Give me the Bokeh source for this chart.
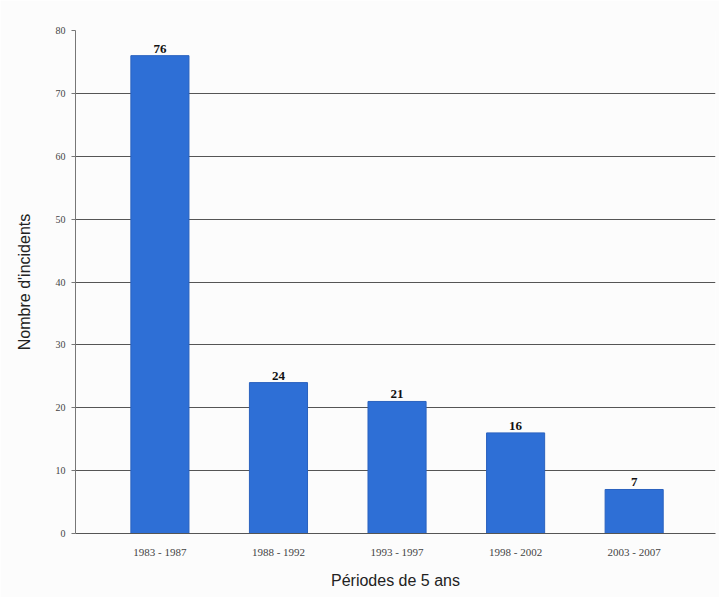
from bokeh.plotting import figure
from bokeh.models import Range1d, FixedTicker, ColumnDataSource
from bokeh.embed import file_html
from bokeh.resources import INLINE

categories = ["1983 - 1987", "1988 - 1992", "1993 - 1997", "1998 - 2002", "2003 - 2007"]
values = [76, 24, 21, 16, 7]
y_ticks = [0, 10, 20, 30, 40, 50, 60, 70, 80]

xs = list(range(len(categories)))
src = ColumnDataSource(dict(x=xs, top=values, lbl=[str(v) for v in values]))

p = figure(width=719, height=597, output_backend="svg", toolbar_location=None,
           x_range=Range1d(-0.712, 4.686), y_range=Range1d(0, 80),
           min_border_left=75, min_border_right=4, min_border_top=30, min_border_bottom=64)
p.outline_line_color = None
p.background_fill_color = "#fcfcfc"
p.border_fill_color = "#fcfcfc"

p.vbar(x="x", top="top", width=0.49, bottom=0, source=src, fill_color="#2e6fd6", line_color="#2a62bf")
p.text(x="x", y="top", text="lbl", source=src, text_align="center", text_baseline="bottom",
       text_font_size="13px", text_font_style="bold", text_color="#111111",
       text_font={"value": "Liberation Serif"}, y_offset=-3)

p.xaxis.ticker = FixedTicker(ticks=xs)
p.xaxis.major_label_overrides = {i: c for i, c in enumerate(categories)}
p.yaxis.ticker = FixedTicker(ticks=y_ticks)

p.xgrid.grid_line_color = None
p.ygrid.grid_line_color = "#555555"
p.ygrid.grid_line_width = 1

for ax in (p.xaxis, p.yaxis):
    ax.major_label_text_font = "Liberation Serif"
    ax.major_label_text_color = "#444444"
    ax.axis_label_text_font = "Liberation Sans"
    ax.axis_label_text_font_style = "normal"
    ax.axis_label_text_font_size = "16px"
    ax.axis_label_text_color = "#222222"
    ax.minor_tick_line_color = None

p.yaxis.axis_label = "Nombre d'incidents"
p.yaxis.major_label_text_font_size = "10px"
p.yaxis.axis_line_color = "#777777"
p.yaxis.major_tick_line_color = "#777777"
p.yaxis.major_tick_out = 4
p.yaxis.major_tick_in = 0
p.yaxis.major_label_standoff = 6
p.yaxis.axis_label_standoff = 20

p.xaxis.axis_label = "Périodes de 5 ans"
p.xaxis.major_label_text_font_size = "11px"
p.xaxis.axis_line_color = "#555555"
p.xaxis.major_tick_line_color = None
p.xaxis.major_label_standoff = 6
p.xaxis.axis_label_standoff = 11

open("out.html", "w").write(file_html(p, INLINE))
